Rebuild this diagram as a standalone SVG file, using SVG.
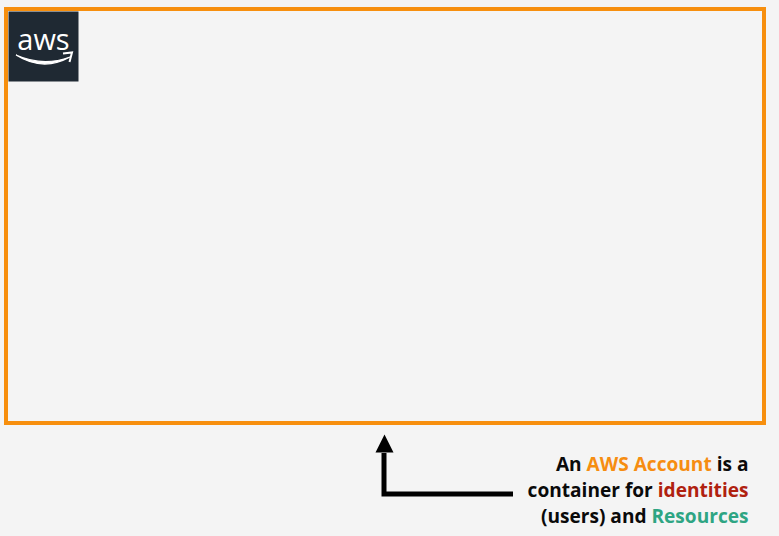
<svg xmlns="http://www.w3.org/2000/svg" width="779" height="536" viewBox="0 0 779 536">
<style>
.t{font-family:"Open Sans","Noto Sans",sans-serif;font-weight:700;font-size:19.1px;fill:#0a0a0a}
.o{fill:#f68d11}.r{fill:#b0210f}.g{fill:#2ea583}
</style>
<rect width="779" height="536" fill="#f4f4f4"/>
<g id="account"><rect x="6" y="9" width="758" height="414" fill="none" stroke="#f78f0e" stroke-width="4"/></g>
<g id="aws-logo">
<rect x="8.500" y="11.500" width="70" height="70" fill="#1f2933"/>
<text x="43.500" y="50" text-anchor="middle" font-family="'Open Sans','Noto Sans',sans-serif" font-size="29" fill="#fff">aws</text>
<path d="M16 55Q43 72 70 57Q43 67 16 55Z" fill="#fff" stroke="#fff" stroke-width="1.200"/>
<path d="M63 53.500L72 52.500L69.500 62" fill="none" stroke="#fff" stroke-width="2"/>
</g>
<g id="connectors"><path d="M513 494H384V453" fill="none" stroke="#000" stroke-width="5"/><path d="M375.500 452.500L384.500 434.500L393.500 452.500Z" fill="#000"/></g>
<g id="label">
<text class="t" x="748.500" y="471" text-anchor="end">An <tspan class="o">AWS Account</tspan> is a</text>
<text class="t" x="748.500" y="497" text-anchor="end">container for <tspan class="r">identities</tspan></text>
<text class="t" x="748.500" y="523" text-anchor="end">(users) and <tspan class="g">Resources</tspan></text>
</g>
</svg>
